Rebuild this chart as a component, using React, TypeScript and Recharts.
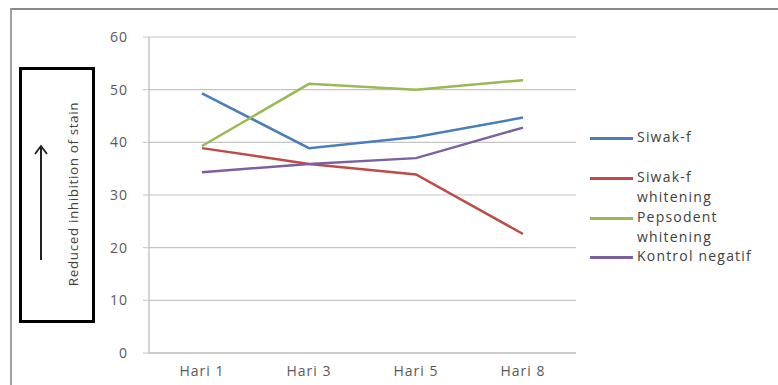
import React from "react";
import { LineChart, Line, XAxis, YAxis, CartesianGrid } from "recharts";

const categories = ["Hari 1", "Hari 3", "Hari 5", "Hari 8"];
const siwakF = [49.3, 38.9, 41.0, 44.7];
const siwakFWhitening = [38.9, 35.9, 33.9, 22.6];
const pepsodentWhitening = [39.3, 51.1, 50.0, 51.8];
const kontrolNegatif = [34.3, 35.9, 37.0, 42.8];
const yTicks = [0, 10, 20, 30, 40, 50, 60];

const seriesNames = ["Siwak-f", "Siwak-f\nwhitening", "Pepsodent\nwhitening", "Kontrol negatif"];
const seriesKeys = ["s1", "s2", "s3", "s4"];
const seriesColors = ["#4a7ebb", "#be4b48", "#98b954", "#7d60a0"];

const data = categories.map((c, i) => ({
  name: c,
  s1: siwakF[i],
  s2: siwakFWhitening[i],
  s3: pepsodentWhitening[i],
  s4: kontrolNegatif[i],
}));

const FONT = "'Open Sans', 'Liberation Sans', sans-serif";
const legendTops = [0, 40, 80, 119];

const XTick = (props: any) => {
  const { x, y, payload } = props;
  return (
    <text x={x} y={y + 15} textAnchor="middle" fill="#595959" fontSize={14} fontFamily={FONT} letterSpacing={1}>
      {payload.value}
    </text>
  );
};

const YTick = (props: any) => {
  const { x, y, payload } = props;
  return (
    <text x={x} y={y} dy={5} textAnchor="end" fill="#595959" fontSize={14} fontFamily={FONT} letterSpacing={1}>
      {payload.value}
    </text>
  );
};

const LegendBox = () => (
  <div style={{ position: "absolute", left: 590, top: 128, width: 190, height: 160, fontFamily: FONT, fontSize: 14, letterSpacing: 1.2, color: "#404040" }}>
    {seriesNames.map((n, i) => (
      <div key={n} style={{ position: "absolute", left: 0, top: legendTops[i], display: "flex", alignItems: "flex-start" }}>
        <div style={{ width: 43, height: 3, background: seriesColors[i], marginTop: 9 }} />
        <div style={{ marginLeft: 4, whiteSpace: "pre", lineHeight: "20px", marginTop: -1 }}>{n}</div>
      </div>
    ))}
  </div>
);

export default function App() {
  return (
    <div style={{ position: "absolute", left: 0, top: 0, width: 778, height: 385, background: "#fff", overflow: "hidden" }}>
      <div style={{ position: "absolute", left: 10, top: 8, width: 780, height: 390, borderTop: "2px solid #8a8a8a", borderLeft: "2px solid #a0a0a0", boxSizing: "border-box" }} />
      <div style={{ position: "absolute", left: 0, top: 0 }}>
        <LineChart width={778} height={385} data={data} margin={{ top: 37, right: 202, bottom: 0, left: 109 }}>
          <CartesianGrid vertical={false} stroke="#c4c4c4" strokeWidth={1.2} />
          <XAxis
            dataKey="name"
            height={32}
            padding={{ left: 53, right: 53 }}
            axisLine={{ stroke: "#b8b8b8", strokeWidth: 1.2 }}
            tickLine={false}
            tick={<XTick />}
          />
          <YAxis
            width={40}
            domain={[0, 60]}
            ticks={yTicks}
            interval={0}
            axisLine={{ stroke: "#b8b8b8", strokeWidth: 1.2 }}
            tickLine={{ stroke: "#c4c4c4" }}
            tickSize={6}
            tickMargin={15}
            tick={<YTick />}
          />
          {seriesKeys.map((k, i) => (
            <Line
              key={k}
              dataKey={k}
              name={seriesNames[i]}
              stroke={seriesColors[i]}
              strokeWidth={2.5}
              dot={false}
              activeDot={false}
              isAnimationActive={false}
            />
          ))}
        </LineChart>
      </div>
      <LegendBox />
      <div style={{ position: "absolute", left: 19, top: 67, width: 76, height: 256, border: "3px solid #000", boxSizing: "border-box", background: "#fff" }}>
        <svg width={70} height={250} style={{ position: "absolute", left: 0, top: 0 }}>
          <line x1={19} y1={190} x2={19} y2={76} stroke="#222" strokeWidth={2} />
          <polyline points="13,84 19,76 25,84" fill="none" stroke="#222" strokeWidth={1.8} />
          <text
            x={51}
            y={124}
            transform="rotate(-90 51 124)"
            textAnchor="middle"
            dominantBaseline="central"
            fontFamily={FONT}
            fontSize={13.5}
            letterSpacing={0.6}
            fill="#404040"
          >
            Reduced inhibition of stain
          </text>
        </svg>
      </div>
    </div>
  );
}
